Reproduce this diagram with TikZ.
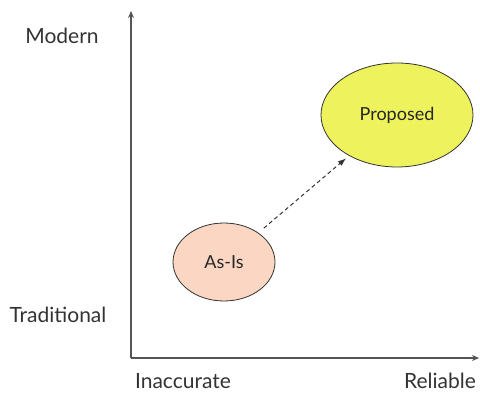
\documentclass[tikz,border=0pt]{standalone}
\usepackage{fontspec}
\setmainfont{Lato}
\usetikzlibrary{shapes.geometric, positioning, arrows.meta}
\definecolor{axisgray}{HTML}{555555}
\definecolor{peach}{HTML}{FAD6C3}
\definecolor{lemon}{HTML}{EEF25C}
\definecolor{inkgray}{HTML}{333333}

\begin{document}
\begin{tikzpicture}[
    x=1pt, y=-1pt,
    lbl/.style={font=\fontsize{21}{24}\selectfont, text=inkgray, inner sep=0pt},
    blob/.style={ellipse, draw=inkgray, line width=0.8pt, inner sep=0pt,
                 font=\fontsize{18}{21}\selectfont, text=black!85},
    axis/.style={-{Stealth[length=7pt, width=6pt]}, draw=axisgray, line width=2pt},
    arr/.style={-{Latex[length=8pt, width=6pt]}, draw=inkgray, line width=1pt,
                dash pattern=on 4pt off 3pt}
]
\useasboundingbox (0,0) rectangle (480,393);

\coordinate (origin) at (131,358);
\coordinate (ytip) at (131,11);
\coordinate (xtip) at (479,358);

\node[lbl] (modern) at (62,36) {Modern};
\node[lbl] (trad) at (58,315) {Traditional};
\node[lbl] (inacc) at (183,381) {Inaccurate};
\node[lbl] (reliable) at (440,381) {Reliable};

\node[blob, fill=peach, minimum width=102pt, minimum height=78pt] (asis) at (224,262) {As-Is};
\node[blob, fill=lemon, minimum width=152pt, minimum height=104pt] (prop) at (397,115) {Proposed};

\draw[axis] (origin) -- (ytip);
\draw[axis] (origin) -- (xtip);
\draw[arr, shorten <=7pt, shorten >=4pt] (asis) -- (prop);
\end{tikzpicture}
\end{document}
